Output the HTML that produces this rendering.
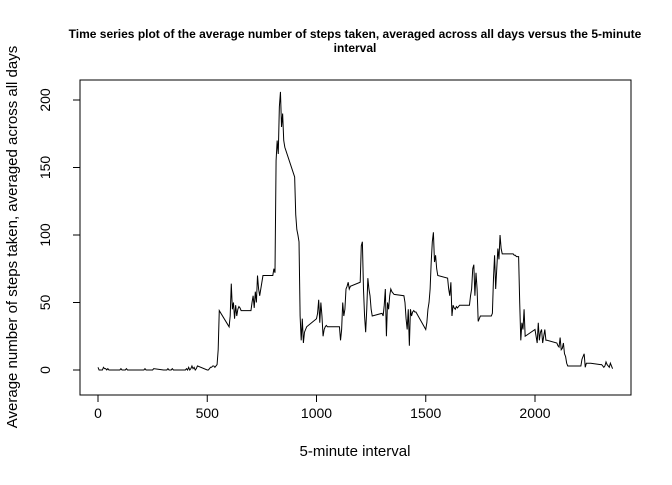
<!DOCTYPE html>
<html><head><meta charset="utf-8"><style>
body{margin:0;background:#fff;width:672px;height:480px;overflow:hidden}
svg{font-family:"Liberation Sans",Arial,sans-serif}
</style></head><body>
<svg id="chart" width="672" height="480">
<text x="355" y="38" text-anchor="middle" font-size="12" font-weight="bold">Time series plot of the average number of steps taken, averaged across all days versus the 5-minute</text>
<text x="355" y="52" text-anchor="middle" font-size="12" font-weight="bold">interval</text>
<rect x="80" y="80" width="551" height="315" fill="none" stroke="#000"/>
<text x="355" y="456" text-anchor="middle" font-size="15">5-minute interval</text>
<text transform="translate(17,237) rotate(-90)" text-anchor="middle" font-size="15">Average number of steps taken, averaged across all days</text>
<g id="axes"></g>
<path id="line" fill="none" stroke="#000" stroke-width="1"/>
</svg>
<script>
const hourValues = [
[2,0,0,0,0,2,1,1,0,1,0,0],
[0,1,0,0,0,0,1,0,0,0,0,0],
[0,0,0,1,0,0,0,0,0,0,0,1],
[0,0,0,0,1,0,0,0,1,0,0,0],
[0,1,0,2,0,1,3,1,2,0,1,3],
[0,0,1,2,2,3,3,2,3,4,15,44],
[32,40,64,45,50,38,48,40,45,47,46,44],
[44,50,55,46,58,50,70,60,55,60,65,70],
[70,75,72,155,170,160,195,206,180,190,170,165],
[143,115,104,100,95,40,22,38,20,28,30,32],
[38,42,52,35,50,40,25,30,32,33,32,32],
[32,32,22,30,50,40,45,60,62,65,60,62],
[65,92,95,60,40,28,45,68,60,55,45,40],
[42,40,48,60,25,50,45,55,60,58,57,56],
[55,50,38,30,45,18,45,40,43,44,43,43],
[30,35,45,50,60,80,95,102,80,85,75,70],
[68,60,55,65,40,48,46,45,47,46,47,48],
[48,55,60,75,78,55,72,60,36,38,40,40],
[40,42,68,85,60,75,90,82,100,90,86,86],
[86,85,85,84,84,84,50,22,35,30,45,25],
[30,25,20,35,22,28,30,20,25,30,22,22],
[20,18,17,24,15,16,20,12,10,5,3,3],
[3,3,3,8,10,12,2,5,5,5,5,5],
[4,4,3,2,3,6,4,3,2,5,3,1]
];
const xTicks = [0,500,1000,1500,2000];
const yTicks = [0,50,100,150,200];
const xs = v => 98 + v*0.2185;
const ys = v => 370 - v*1.35;
const svgNS = "http://www.w3.org/2000/svg";
const axes = document.getElementById('axes');
function mk(tag, attrs){const e=document.createElementNS(svgNS,tag);for(const k in attrs)e.setAttribute(k,attrs[k]);axes.appendChild(e);return e;}
mk('line',{x1:xs(xTicks[0]),x2:xs(xTicks[xTicks.length-1]),y1:395,y2:395,stroke:'#000'});
xTicks.forEach(t=>{
 const l=mk('line',{x1:xs(t),x2:xs(t),y1:395,y2:402,stroke:'#000'});
 
 
 const tx=mk('text',{x:xs(t),y:418,'text-anchor':'middle','font-size':'14'});tx.textContent=t;
 
 
});
mk('line',{x1:80,x2:80,y1:ys(yTicks[0]),y2:ys(yTicks[yTicks.length-1]),stroke:'#000'});
yTicks.forEach(t=>{
 const l=mk('line',{x1:73,x2:80,y1:ys(t),y2:ys(t),stroke:'#000'});
 
 
 const tx=mk('text',{transform:`translate(50,${ys(t)}) rotate(-90)`,'text-anchor':'middle','font-size':'14'});tx.textContent=t;
 
 
});
let d='';
hourValues.forEach((arr,h)=>arr.forEach((v,i)=>{
 const iv=h*100+i*5;
 d+=(d?'L':'M')+xs(iv).toFixed(2)+','+ys(v).toFixed(2);
}));
document.getElementById('line').setAttribute('d',d);
</script>
</body></html>
